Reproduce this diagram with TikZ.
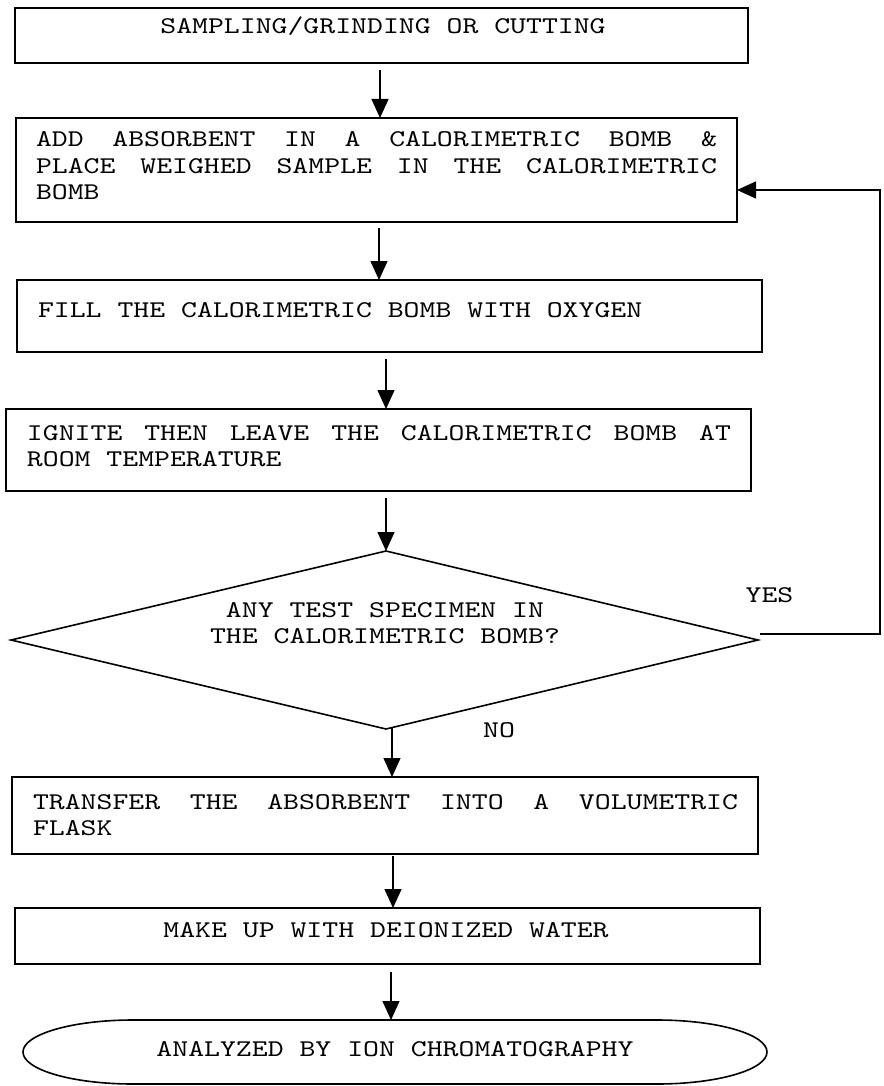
\documentclass[tikz,border=0pt]{standalone}
\usepackage{fontspec}
\newfontfamily\flowfont{lmmono10-regular.otf}[FakeStretch=1.262]
\usetikzlibrary{arrows.meta}
\newcommand{\jtext}{\spaceskip=15.9pt plus 40pt\relax\hyphenpenalty=10000\relax\parindent=0pt\relax}
\tikzset{
  box/.style={draw, line width=1.6pt, rectangle, inner sep=0pt, outer sep=0pt},
  txt/.style={inner sep=0pt, outer sep=0pt, font=\flowfont\fontsize{24pt}{26.5pt}\selectfont},
  arr/.style={line width=1.3pt, -{Triangle[length=19pt,width=17pt]}},
}
\begin{document}
\begin{tikzpicture}[x=1pt,y=-1pt]
\useasboundingbox (0,0) rectangle (883,1086);

% boxes
\node[box, minimum width=733pt, minimum height=55pt]  (b1) at (381.5,35.5) {};
\node[box, minimum width=721pt, minimum height=104pt] (b2) at (376.5,170) {};
\node[box, minimum width=745pt, minimum height=72pt]  (b3) at (389.5,316) {};
\node[box, minimum width=745pt, minimum height=82pt]  (b4) at (378.5,450) {};
\node[box, minimum width=746pt, minimum height=77pt]  (b5) at (385,815.5) {};
\node[box, minimum width=745pt, minimum height=56pt]  (b6) at (387.5,936) {};
\node[inner sep=0pt, outer sep=0pt, minimum width=744pt, minimum height=64pt] (t) at (395,1052) {};
\draw[line width=1.6pt] ([xshift=110pt]t.north west) -- ([xshift=-110pt]t.north east)
  arc[start angle=90, end angle=-90, x radius=110pt, y radius=32pt]
  -- ([xshift=110pt]t.south west)
  arc[start angle=270, end angle=90, x radius=110pt, y radius=32pt] -- cycle;

% decision
\coordinate (dt) at (386,551);
\coordinate (dr) at (758,640);
\coordinate (db) at (386,729);
\coordinate (dl) at (11,640);
\draw[line width=1.6pt] (dt) -- (dr) -- (db) -- (dl) -- cycle;

% texts
\node[txt, anchor=base] (t1) at (383,34) {SAMPLING/GRINDING OR CUTTING};
\node[txt, anchor=base west] (t2) at (36,147) {\parbox[t]{681pt}{\jtext ADD ABSORBENT IN A CALORIMETRIC BOMB \&\linebreak PLACE WEIGHED SAMPLE IN THE CALORIMETRIC\linebreak BOMB}};
\node[txt, anchor=base west] (t3) at (38,317) {FILL THE CALORIMETRIC BOMB WITH OXYGEN};
\node[txt, anchor=base west] (t4) at (27,440) {\parbox[t]{704pt}{\jtext IGNITE THEN LEAVE THE CALORIMETRIC BOMB AT\linebreak ROOM TEMPERATURE}};
\node[txt, anchor=base] (tq) at (385,617) {\parbox[t]{500pt}{\centering ANY TEST SPECIMEN IN\\THE CALORIMETRIC BOMB?}};
\node[txt, anchor=base west] (t5) at (33,809) {\parbox[t]{705pt}{\jtext TRANSFER THE ABSORBENT INTO A VOLUMETRIC\linebreak FLASK}};
\node[txt, anchor=base] (t6) at (386,937) {MAKE UP WITH DEIONIZED WATER};
\node[txt, anchor=base] (t7) at (395,1056) {ANALYZED BY ION CHROMATOGRAPHY};
\node[txt, anchor=base] (yes) at (769.5,602) {YES};
\node[txt, anchor=base] (no) at (499,737) {NO};

% connectors
\draw[arr, shorten <=7pt] ([xshift=-1.5pt]b1.south) -- ([xshift=3.5pt]b2.north);
\draw[arr, shorten <=6pt] ([xshift=2.5pt]b2.south) -- ([xshift=-10.5pt]b3.north);
\draw[arr, shorten <=7pt] ([xshift=-3.5pt]b3.south) -- ([xshift=7.5pt]b4.north);
\draw[arr, shorten <=7pt] ([xshift=7.5pt]b4.south) -- (dt);
\coordinate (n0) at (392,727);
\draw[arr] (n0) -- ([xshift=7pt]b5.north);
\draw[arr, shorten <=2pt] ([xshift=8pt]b5.south) -- ([xshift=5.5pt]b6.north);
\draw[arr, shorten <=8pt] ([xshift=3.5pt]b6.south) -- ([xshift=-4pt]t.north);
\coordinate (y0) at (760,634);
\coordinate (y1) at (880,634);
\draw[arr] (y0) -- (y1) |- ([yshift=-20pt]b2.east);
\end{tikzpicture}
\end{document}
